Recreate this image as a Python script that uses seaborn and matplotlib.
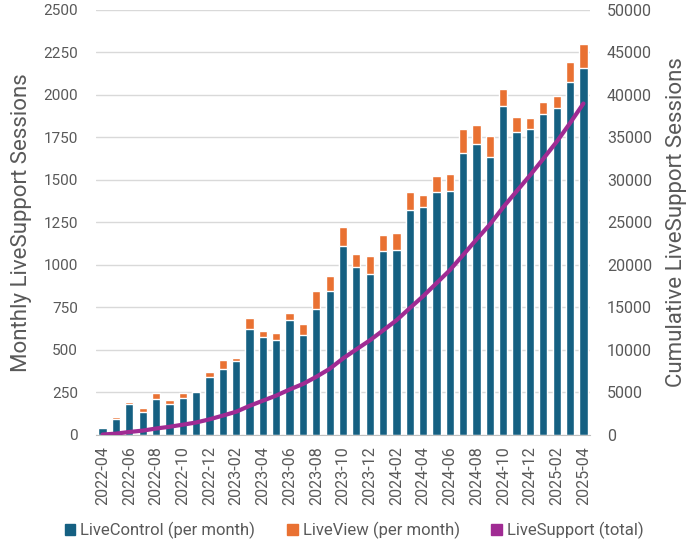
import numpy as np
import pandas as pd
import matplotlib
matplotlib.use("Agg")
import matplotlib.pyplot as plt
import seaborn as sns
from matplotlib.patches import Patch

months = pd.period_range("2022-04", "2025-04", freq="M").strftime("%Y-%m").tolist()

# monthly sessions
live_control = [40, 95, 180, 135, 210, 180, 220, 250, 340, 390, 435, 625,
                575, 560, 675, 585, 740, 845, 1110, 990, 945, 1080, 1090, 1325,
                1340, 1430, 1435, 1655, 1710, 1635, 1935, 1780, 1800, 1885, 1925, 2075,
                2160]
live_view = [5, 10, 15, 25, 35, 25, 25, 10, 30, 50, 20, 65,
             35, 40, 40, 65, 105, 90, 115, 75, 110, 95, 100, 105,
             70, 95, 100, 145, 110, 125, 100, 90, 65, 75, 70, 120,
             140]

c_blue = "#156082"
c_orange = "#E97132"
c_purple = "#A02B93"
c_text = "#595959"

df = pd.DataFrame({"month": months, "control": live_control, "view": live_view})
df["total"] = df["control"] + df["view"]
df["cumulative"] = df["total"].cumsum()

sns.set_style("white")
plt.rcParams["font.family"] = ["Roboto", "DejaVu Sans"]

fig, ax = plt.subplots(figsize=(7, 5.45), dpi=100)
fig.subplots_adjust(left=0.137, right=0.843, top=0.982, bottom=0.202)

# stacked bars: orange total underneath, blue part drawn over it
sns.barplot(data=df, x="month", y="total", color=c_orange, width=0.62,
            saturation=1, ax=ax)
sns.barplot(data=df, x="month", y="control", color=c_blue, width=0.62,
            saturation=1, ax=ax)

ax.set_ylim(0, 2500)
ax.set_yticks(np.arange(0, 2501, 250))
ax.set_xlim(-0.5, len(months) - 0.5)
ax.set_xticks(range(0, len(months), 2))
ax.set_xticklabels(months[::2], rotation=90)
ax.yaxis.grid(True, color="#d9d9d9", lw=1)
ax.set_axisbelow(True)
for s in ["top", "left", "right"]:
    ax.spines[s].set_visible(False)
ax.spines["bottom"].set_color("#bfbfbf")
ax.tick_params(axis="y", length=0, colors=c_text, labelsize=11, pad=13)
ax.tick_params(axis="x", length=0, colors=c_text, labelsize=11.5, pad=8)
ax.set_xlabel("")
ax.set_ylabel("Monthly LiveSupport Sessions", fontsize=16, color=c_text,
              labelpad=8)

ax2 = ax.twinx()
sns.lineplot(x=np.arange(len(months)), y=df["cumulative"], color=c_purple,
             lw=3, ax=ax2)
ax2.set_ylim(0, 50000)
ax2.set_yticks(np.arange(0, 50001, 5000))
for s in ["top", "left", "right", "bottom"]:
    ax2.spines[s].set_visible(False)
ax2.tick_params(axis="y", length=0, colors=c_text, labelsize=11.5, pad=12)
ax2.set_ylabel("Cumulative LiveSupport Sessions", fontsize=16, color=c_text,
               labelpad=10)

handles = [Patch(color=c_blue), Patch(color=c_orange), Patch(color=c_purple)]
labels = ["LiveControl (per month)", "LiveView (per month)", "LiveSupport (total)"]
fig.legend(handles, labels, loc="center", ncol=3, frameon=False,
           bbox_to_anchor=(0.506, 0.026), fontsize=12, labelcolor=c_text,
           handlelength=0.65, handleheight=0.65, columnspacing=1.9,
           handletextpad=0.3)

fig.savefig("out.png", dpi=100)
